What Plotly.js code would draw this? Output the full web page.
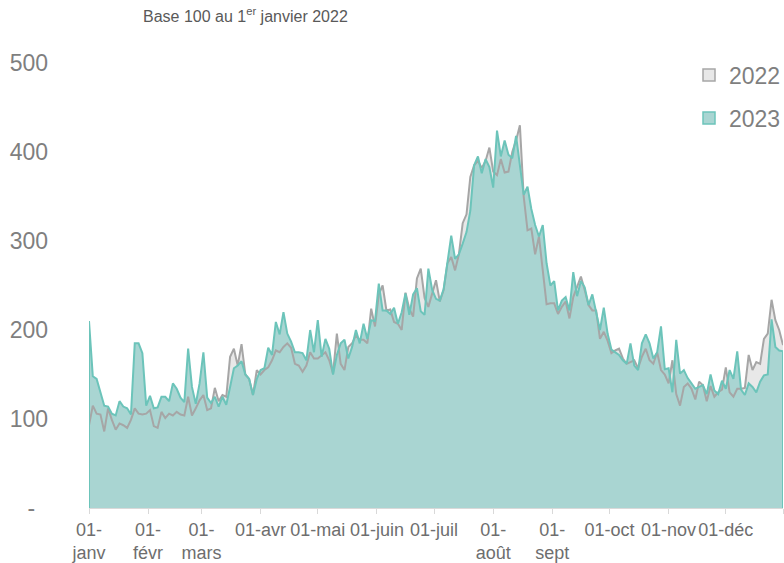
<!DOCTYPE html>
<html>
<head>
<meta charset="utf-8">
<script src="https://cdn.plot.ly/plotly-3.0.1.min.js"></script>
<style>
  html, body { margin: 0; padding: 0; background: #fff; }
  #chart { width: 784px; height: 563px; }
</style>
</head>
<body>
<div id="chart"></div>
<script>
// Values read every 2 days, starting 1 January (base 100 au 1er janvier 2022)
const STEP_DAYS = 2;
const START = '2023-01-01';

const v2022 = [
  93, 115, 106, 105, 86, 112, 99, 88, 95, 93,
  90, 99, 112, 106, 105, 106, 110, 92, 90, 108,
  101, 106, 104, 108, 105, 104, 125, 104, 112, 121,
  127, 110, 112, 135, 120, 127, 125, 170, 179, 160,
  184, 150, 145, 127, 155, 150, 155, 158, 166, 177,
  175, 181, 185, 180, 162, 160, 153, 160, 175, 168,
  168, 172, 175, 166, 151, 196, 162, 155, 181, 185,
  194, 189, 189, 185, 224, 204, 240, 250, 222, 223,
  209, 207, 200, 242, 224, 215, 258, 269, 236, 226,
  240, 256, 232, 245, 275, 282, 267, 285, 320, 330,
  372, 385, 390, 382, 390, 405, 378, 374, 392, 377,
  378, 400, 413, 430, 350, 312, 314, 285, 305, 268,
  229, 230, 230, 218, 226, 232, 213, 237, 248, 260,
  245, 228, 222, 222, 190, 198, 188, 174, 177, 179,
  168, 162, 164, 166, 157, 170, 179, 166, 162, 175,
  155, 150, 140, 166, 128, 115, 136, 140, 134, 122,
  142, 138, 120, 137, 125, 130, 133, 158, 130, 125,
  134, 134, 135, 172, 155, 164, 162, 190, 196, 234,
  211, 200, 183
];

const v2023 = [
  210, 148, 145, 129, 115, 114, 106, 104, 120, 114,
  112, 105, 185, 185, 174, 115, 126, 112, 113, 125,
  125, 120, 140, 134, 124, 119, 179, 136, 117, 140,
  175, 124, 118, 125, 114, 125, 116, 136, 157, 160,
  165, 150, 145, 127, 145, 155, 157, 180, 172, 209,
  195, 220, 196, 187, 175, 175, 174, 166, 200, 175,
  211, 170, 190, 179, 150, 172, 185, 189, 168, 181,
  200, 185, 207, 190, 211, 210, 252, 222, 222, 218,
  225, 207, 220, 241, 217, 240, 247, 221, 217, 269,
  245, 235, 233, 246, 278, 306, 280, 285, 297, 310,
  334, 385, 395, 376, 392, 383, 360, 424, 395, 413,
  397, 393, 418, 385, 352, 361, 336, 318, 305, 318,
  275, 250, 255, 222, 233, 237, 222, 265, 238, 255,
  248, 228, 240, 220, 200, 225, 196, 178, 175, 172,
  166, 162, 185, 160, 155, 185, 195, 185, 168, 175,
  204, 156, 157, 130, 189, 151, 155, 146, 140, 134,
  136, 138, 128, 150, 132, 128, 143, 134, 155, 145,
  176, 133, 127, 140, 136, 130, 142, 149, 150, 212,
  181, 177, 176
];

const seriesNames = ['2022', '2023'];
const monthTickVals = ['2023-01-01','2023-02-01','2023-03-01','2023-04-01','2023-05-01','2023-06-01',
                       '2023-07-01','2023-08-01','2023-09-01','2023-10-01','2023-11-01','2023-12-01','2023-12-31'];
const monthTickText = ['01-<br>janv','01-<br>févr','01-<br>mars','01-avr','01-mai','01-juin',
                       '01-juil','01-<br>août','01-<br>sept','01-oct','01-nov','01-déc',' '];
const yTickVals = [0, 100, 200, 300, 400, 500];
const yTickText = ['-\u00a0\u00a0', '100', '200', '300', '400', '500'];

const startMs = Date.parse(START + 'T00:00:00Z');
const dates = v2022.map((_, i) => new Date(startMs + i * STEP_DAYS * 86400000).toISOString().slice(0, 10));

const GREY_LINE = '#A6A6A6', GREY_FILL = '#E8E8E8';
const TEAL_LINE = '#6CC4BA', TEAL_FILL = '#A9D5D2';

const traces = [
  { x: dates, y: v2022, type: 'scatter', mode: 'none', fill: 'tozeroy', fillcolor: GREY_FILL,
    showlegend: false, hoverinfo: 'skip' },
  { x: dates, y: v2023, type: 'scatter', mode: 'none', fill: 'tozeroy', fillcolor: TEAL_FILL,
    showlegend: false, hoverinfo: 'skip' },
  { x: dates, y: v2022, type: 'scatter', mode: 'lines', line: { color: GREY_LINE, width: 2 },
    showlegend: false, name: seriesNames[0] },
  { x: dates, y: v2023, type: 'scatter', mode: 'lines', line: { color: TEAL_LINE, width: 2 },
    showlegend: false, name: seriesNames[1] },
  { x: [null], y: [null], type: 'scatter', mode: 'markers', name: seriesNames[0], legendgroup: 'a',
    marker: { symbol: 'square', size: 12, color: GREY_FILL, line: { color: GREY_LINE, width: 1.5 } } },
  { x: [null], y: [null], type: 'scatter', mode: 'markers', name: seriesNames[1], legendgroup: 'b',
    marker: { symbol: 'square', size: 12, color: TEAL_FILL, line: { color: TEAL_LINE, width: 1.5 } } }
];

const last = dates.length - 1;
// vertical border of the 2023 area at both ends (Excel-style area outline)
const edgeShapes = [
  { type: 'line', xref: 'x', yref: 'y', x0: dates[0], x1: dates[0], y0: 0, y1: v2023[0],
    line: { color: TEAL_LINE, width: 2 }, layer: 'above' },
  { type: 'line', xref: 'x', yref: 'y', x0: dates[last], x1: dates[last], y0: 0, y1: v2023[last],
    line: { color: TEAL_LINE, width: 2 }, layer: 'above' }
];

const FONT = 'Arial, "Liberation Sans", sans-serif';

const layout = {
  width: 784, height: 563,
  margin: { l: 89, r: 1, t: 63, b: 55, autoexpand: false },
  paper_bgcolor: '#ffffff', plot_bgcolor: '#ffffff',
  font: { family: FONT, color: '#7F7F7F' },
  title: {
    text: 'Base 100 au 1<sup>er</sup> janvier 2022',
    font: { family: FONT, size: 16, color: '#595959' },
    xref: 'container', yref: 'container',
    x: 143 / 784, xanchor: 'left',
    y: 1 - 16 / 563, yanchor: 'middle'
  },
  xaxis: {
    type: 'date',
    range: ['2023-01-01', '2023-12-31'],
    tickmode: 'array', tickvals: monthTickVals, ticktext: monthTickText,
    tickfont: { family: FONT, size: 18, color: '#6E6E6E' },
    showgrid: false, zeroline: false,
    showline: true, linecolor: '#D9D9D9', linewidth: 1,
    ticks: 'outside', ticklen: 5, tickcolor: '#D9D9D9', tickwidth: 1,
    fixedrange: true
  },
  yaxis: {
    range: [0, 500],
    tickmode: 'array', tickvals: yTickVals, ticktext: yTickText,
    tickfont: { family: FONT, size: 23, color: '#7F7F7F' },
    showgrid: false, zeroline: false, showline: false, ticks: '',
    ticklabelstandoff: 40,
    fixedrange: true
  },
  legend: {
    x: (689 - 89) / 694, xanchor: 'left',
    y: 1.021, yanchor: 'top',
    bgcolor: 'rgba(0,0,0,0)',
    font: { family: FONT, size: 23, color: '#7F7F7F' },
    tracegroupgap: 10,
    itemwidth: 30
  },
  shapes: edgeShapes,
  showlegend: true
};

Plotly.newPlot('chart', traces, layout, { staticPlot: true, displayModeBar: false });
</script>
</body>
</html>
